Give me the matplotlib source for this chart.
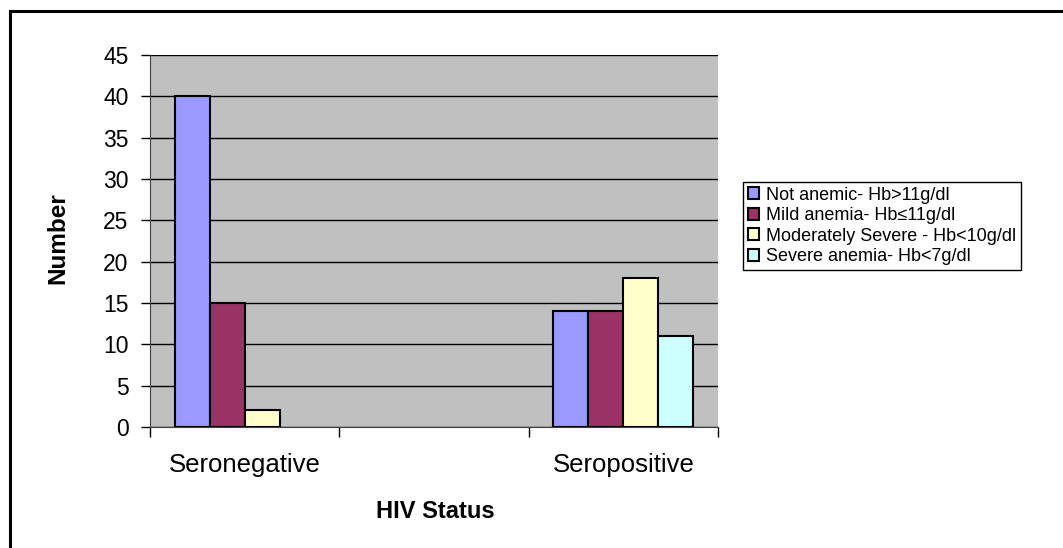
import matplotlib
matplotlib.use('Agg')
import matplotlib.pyplot as plt
from matplotlib.patches import Rectangle
import numpy as np

plt.rcParams['font.family'] = ['Liberation Sans', 'DejaVu Sans']

# data
categories = ['Seronegative', '', 'Seropositive']
series_names = ['Not anemic- Hb>11g/dl',
                'Mild anemia- Hb\u226411g/dl',
                'Moderately Severe - Hb<10g/dl',
                'Severe anemia- Hb<7g/dl']
values = [
    [40, np.nan, 14],       # not anemic
    [15, np.nan, 14],       # mild
    [2, np.nan, 18],        # moderately severe
    [np.nan, np.nan, 11],   # severe
]
colors = ['#9999FF', '#993366', '#FFFFCC', '#CCFFFF']
yticks = list(range(0, 50, 5))

W, H = 1063, 548
fig = plt.figure(figsize=(W / 100, H / 100), dpi=100)

# outer chart border (cut off on right/bottom like the original)
fig.patches.append(Rectangle((10 / W, -0.05), 1.1, (H - 11) / H + 0.05,
                             transform=fig.transFigure, fill=False,
                             edgecolor='black', linewidth=2.2, zorder=0))

ax = fig.add_axes([150 / W, (H - 427) / H, 568 / W, 372 / H])
ax.set_facecolor('#C0C0C0')

x = np.arange(len(categories))
bw = 0.185
for i, (vals, col, name) in enumerate(zip(values, colors, series_names)):
    ax.bar(x + (i - 1.5) * bw, vals, bw, color=col, edgecolor='black',
           linewidth=1.5, label=name, zorder=3)

ax.set_xlim(-0.5, 2.5)
ax.set_ylim(0, 45)
ax.set_yticks(yticks)
ax.tick_params(axis='y', labelsize=16.5, length=6.5, width=1, direction='out', pad=9)
ax.yaxis.grid(True, color='black', linewidth=1, zorder=1)
ax.set_axisbelow(True)

ax.set_xticks(x)
ax.set_xticklabels(categories, fontsize=18.5)
ax.tick_params(axis='x', length=0, pad=19)
ax.set_xticks([-0.5, 0.5, 1.5, 2.5], minor=True)
ax.tick_params(axis='x', which='minor', length=7, width=1, direction='out')

for s in ['top', 'right']:
    ax.spines[s].set_visible(False)
ax.spines['left'].set_color('#404040')
ax.spines['bottom'].set_color('#404040')

ax.set_ylabel('Number', fontsize=17.5, fontweight='bold', va='center', ha='center')
ax.yaxis.set_label_coords((58 - 150) / 568, (427 - 238) / 372)
ax.set_xlabel('HIV Status', fontsize=17, fontweight='bold', va='center', ha='center')
ax.xaxis.set_label_coords((435 - 150) / 568, -(512 - 427) / 372)

leg = ax.legend(loc='upper left', bbox_to_anchor=(743 / W, 1 - 182 / H),
                bbox_transform=fig.transFigure, fontsize=13, frameon=True,
                fancybox=False, edgecolor='black', framealpha=1,
                handlelength=0.65, handleheight=0.65, handletextpad=0.4,
                labelspacing=0.2, borderpad=0.25, borderaxespad=0)
leg.get_frame().set_linewidth(1)

fig.savefig('out.png', dpi=100)
